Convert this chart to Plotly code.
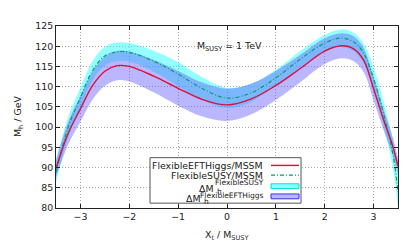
import plotly.graph_objects as go

# ---------------- data ----------------
xt = [-3.5, -3.25, -3.0, -2.75, -2.5, -2.25, -2.0, -1.5, -1.0, -0.5, 0.0,
      0.5, 1.0, 1.5, 2.0, 2.35, 2.6, 2.8, 3.0, 3.2, 3.4, 3.5]

mh_eft = [89.8, 98.5, 104.5, 110.3, 113.8, 115.2, 115.0, 112.6, 109.6, 106.8, 105.5,
          107.0, 110.3, 114.5, 118.8, 120.1, 119.3, 116.5, 109.5, 102.0, 95.0, 90.3]
mh_fs = [88.8, 100.0, 107.3, 114.0, 117.6, 118.6, 118.5, 116.3, 113.1, 109.5, 107.2,
         108.5, 112.2, 116.8, 120.8, 122.0, 121.0, 118.2, 112.0, 103.5, 93.0, 84.0]

dmh_eft = [2.2, 2.8, 3.2, 3.5, 3.6, 3.6, 3.7, 4.0, 4.3, 4.2, 4.0,
           3.8, 3.6, 3.4, 3.2, 3.1, 3.1, 3.0, 2.9, 2.6, 2.2, 2.0]
dmh_fs = [2.5, 2.5, 2.5, 2.4, 2.3, 2.3, 2.3, 2.6, 3.0, 2.8, 2.5,
          2.2, 2.0, 2.0, 2.0, 2.2, 2.3, 2.5, 2.8, 3.0, 3.5, 4.0]

x_ticks = [-3, -2, -1, 0, 1, 2, 3]
y_ticks = [80, 85, 90, 95, 100, 105, 110, 115, 120, 125]

line_names = ["FlexibleEFTHiggs/MSSM", "FlexibleSUSY/MSSM"]
band_sups = ["FlexibleSUSY", "FlexibleEFTHiggs"]

# ---------------- styles ----------------
FONT = "DejaVu Sans, sans-serif"
FS = 9.4
FS_SMALL = 7.5
C_RED = "#d8103a"
C_GREEN = "#00a060"
C_CYAN = "rgba(0,255,255,0.42)"
C_BLUE = "rgba(90,80,255,0.42)"

W, H = 407, 244
ML, MR, MT, MB = 48, 17, 12, 44
PW, PH = W - ML - MR, H - MT - MB


def px(x):
    return (x - ML) / PW


def py(y):
    return (H - MB - y) / PH


fig = go.Figure()


def band(center, delta, color):
    lo = [c - d for c, d in zip(center, delta)]
    hi = [c + d for c, d in zip(center, delta)]
    fig.add_trace(go.Scatter(x=xt, y=lo, mode="lines", line=dict(width=0, shape="spline"),
                             showlegend=False, hoverinfo="skip"))
    fig.add_trace(go.Scatter(x=xt, y=hi, mode="lines", line=dict(width=0, shape="spline"),
                             fill="tonexty", fillcolor=color, showlegend=False,
                             hoverinfo="skip"))


band(mh_fs, dmh_fs, C_CYAN)
band(mh_eft, dmh_eft, C_BLUE)

fig.add_trace(go.Scatter(x=xt, y=mh_fs, mode="lines",
                         line=dict(color=C_GREEN, width=1.2, dash="4px,2px,1px,2px",
                                   shape="spline"),
                         showlegend=False))
fig.add_trace(go.Scatter(x=xt, y=mh_eft, mode="lines",
                         line=dict(color=C_RED, width=1.4, shape="spline"),
                         showlegend=False))

axis_common = dict(showline=True, linecolor="#222", linewidth=1, mirror="ticks",
                   ticks="inside", ticklen=4, tickcolor="#222",
                   showgrid=True, gridcolor="#a8a8a8", griddash="1px,2px", gridwidth=1,
                   zeroline=False, tickfont=dict(family=FONT, size=FS, color="#222"))

fig.update_xaxes(range=[-3.5, 3.5], tickvals=x_ticks, **axis_common)
fig.update_yaxes(range=[80, 125], tickvals=y_ticks, **axis_common)

# manual legend (gnuplot style: text right, sample left of border)
shapes = [dict(type="rect", xref="paper", yref="paper",
               x0=px(142), x1=px(293), y0=py(195), y1=py(148),
               line=dict(color="#555", width=1), fillcolor="white", layer="above"),
          dict(type="line", xref="paper", yref="paper",
               x0=px(263), x1=px(291), y0=py(156), y1=py(156),
               line=dict(color=C_RED, width=1.4), layer="above"),
          dict(type="line", xref="paper", yref="paper",
               x0=px(263), x1=px(291), y0=py(166), y1=py(166),
               line=dict(color=C_GREEN, width=1.2, dash="4px,2px,1px,2px"), layer="above"),
          dict(type="rect", xref="paper", yref="paper",
               x0=px(263), x1=px(291), y0=py(180), y1=py(175),
               line=dict(color="#00dddd", width=1), fillcolor=C_CYAN, layer="above"),
          dict(type="rect", xref="paper", yref="paper",
               x0=px(263), x1=px(291), y0=py(190.5), y1=py(185.5),
               line=dict(color="#3333ee", width=1), fillcolor=C_BLUE, layer="above")]

ann_font = dict(family=FONT, size=FS, color="#222")
small_font = dict(family=FONT, size=FS_SMALL, color="#222")


def ann(text, x, y, xa, ya="middle", font=ann_font, **kw):
    return dict(text=text, xref="paper", yref="paper", x=px(x), y=py(y),
                xanchor=xa, yanchor=ya, showarrow=False, font=font, **kw)


annotations = []
for name, yy in zip(line_names, [156, 166]):
    annotations.append(ann(name, 257, yy, "right"))

# ΔM_h^{...} entries: base, subscript and superscript placed separately
for sup, (x_h, y_base, y_sup) in zip(band_sups, [(207.5, 179.5, 173.6), (194.5, 190.5, 186.6)]):
    annotations.append(ann("ΔM", x_h, y_base, "right"))
    annotations.append(ann("h", x_h - 0.5, y_base + 3.0, "left", font=small_font))
    annotations.append(ann(sup, 257.5, y_sup, "right", font=small_font))

annotations += [
    ann("M<sub>SUSY</sub> = 1 TeV", 187, 33, "left"),
    ann("X<sub>t</sub> / M<sub>SUSY</sub>", 219, 228, "center"),
    ann("M<sub>h</sub> / GeV", 10, 106, "center", textangle=-90),
]

fig.update_layout(width=W, height=H, margin=dict(l=ML, r=MR, t=MT, b=MB),
                  paper_bgcolor="white", plot_bgcolor="white",
                  shapes=shapes, annotations=annotations, showlegend=False)

fig.write_html("out.html")
